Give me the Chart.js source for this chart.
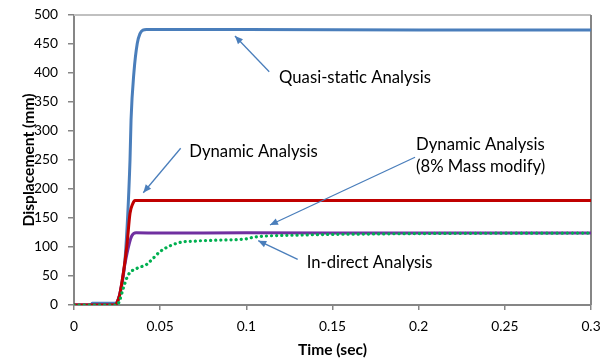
<!DOCTYPE html>
<html>
<head>
<meta charset="utf-8">
<script src="https://cdn.jsdelivr.net/npm/chart.js@4/dist/chart.umd.min.js"></script>
<style>
  html, body { margin: 0; padding: 0; background: #fff; }
  #wrap { width: 614px; height: 361px; }
</style>
</head>
<body>
<div id="wrap"><canvas id="c"></canvas></div>
<script>
// values
const quasiT = [0, 0.01, 0.0105, 0.024, 0.0255, 0.0267, 0.0296, 0.0325, 0.0331, 0.0348, 0.0367, 0.0383, 0.040, 0.042, 0.1, 0.2, 0.3];
const quasiV = [0, 0, 3, 3, 8, 20, 78, 250, 319, 402, 451, 468, 474, 475, 475, 474, 474];

const dynT = [0, 0.024, 0.0255, 0.0267, 0.0306, 0.0325, 0.034, 0.0354, 0.04, 0.1, 0.2, 0.3];
const dynV = [0, 0, 8, 20, 100, 158, 174, 180, 180, 180, 180, 180];

const dyn8T = [0, 0.024, 0.0255, 0.0267, 0.0295, 0.032, 0.0335, 0.036, 0.05, 0.1, 0.2, 0.3];
const dyn8V = [0, 0, 8, 20, 70, 105, 119, 124.5, 124, 124.5, 124, 124];

const indT = [0, 0.025, 0.0265, 0.0286, 0.0315, 0.0364, 0.0422, 0.0451, 0.0499, 0.0557, 0.0634, 0.0692, 0.075, 0.085, 0.1, 0.104, 0.133, 0.172, 0.22, 0.3];
const indV = [0, 0, 8, 29, 52, 63, 70, 78, 92, 102, 109, 110, 111, 112, 114, 116.7, 120.7, 122.4, 123.5, 124];

const xTicks = [0, 0.05, 0.1, 0.15, 0.2, 0.25, 0.3];
const yTicks = [0, 50, 100, 150, 200, 250, 300, 350, 400, 450, 500];

const FONT = "Lato";
const ARROW = "#4a7ebb";

// callouts, placed in data units
const notes = [
  { lines: ["Quasi-static Analysis"], at: [0.119, 392.6], from: [0.1133, 402.2], to: [0.0934, 463.8] },
  { lines: ["Dynamic Analysis"], at: [0.0669, 264.3], from: [0.0619, 270.2], to: [0.0402, 193.6] },
  { lines: ["Dynamic Analysis", "(8% Mass modify)"], at: [0.1985, 275.9], from: [0.1979, 254.7], to: [0.1137, 137.9] },
  { lines: ["In-direct Analysis"], at: [0.135, 72.9], from: [0.1298, 78.8], to: [0.1069, 110.9] },
];

// pick font sizes so the text widths match the picture
const mctx = document.createElement("canvas").getContext("2d");
function fitSize(text, weight, width) {
  mctx.font = weight + " 100px " + FONT;
  return 100 * width / mctx.measureText(text).width;
}
const tickSize = fitSize("500", "normal", 24);
const noteSize = fitSize("Quasi-static Analysis", "normal", 152);
const xTitleSize = fitSize("Time (sec)", "bold", 69);
const yTitleSize = fitSize("Displacement (mm)", "bold", 133);

const pts = (t, v) => t.map((x, i) => ({ x, y: v[i] }));

const extras = {
  id: "extras",
  beforeDatasetsDraw(chart) {
    const { ctx, chartArea: a } = chart;
    ctx.save();
    ctx.lineWidth = 2;
    ctx.strokeStyle = "#c0c0c0";
    ctx.beginPath();
    ctx.moveTo(a.left, a.top);
    ctx.lineTo(a.right, a.top);
    ctx.stroke();
    ctx.strokeStyle = "#868686";
    ctx.beginPath();
    ctx.moveTo(a.right, a.top);
    ctx.lineTo(a.right, a.bottom);
    ctx.stroke();
    ctx.restore();
  },
  afterDraw(chart) {
    const { ctx, chartArea: a, scales } = chart;
    const sx = scales.x, sy = scales.y;
    ctx.save();

    // axis titles
    ctx.fillStyle = "#000";
    ctx.textAlign = "center";
    ctx.textBaseline = "middle";
    ctx.font = "bold " + xTitleSize + "px " + FONT;
    ctx.fillText("Time (sec)", (a.left + a.right) / 2, 350);
    ctx.save();
    ctx.translate(29, (a.top + a.bottom) / 2);
    ctx.rotate(-Math.PI / 2);
    ctx.font = "bold " + yTitleSize + "px " + FONT;
    ctx.fillText("Displacement (mm)", 0, 0);
    ctx.restore();

    // callouts
    ctx.font = noteSize + "px " + FONT;
    ctx.textAlign = "left";
    notes.forEach((n) => {
      const x0 = sx.getPixelForValue(n.from[0]), y0 = sy.getPixelForValue(n.from[1]);
      const x1 = sx.getPixelForValue(n.to[0]), y1 = sy.getPixelForValue(n.to[1]);
      ctx.strokeStyle = ARROW;
      ctx.fillStyle = ARROW;
      ctx.lineWidth = 1.3;
      ctx.beginPath();
      ctx.moveTo(x0, y0);
      ctx.lineTo(x1, y1);
      ctx.stroke();
      const ang = Math.atan2(y1 - y0, x1 - x0);
      const L = 8, W = 3.5;
      ctx.beginPath();
      ctx.moveTo(x1, y1);
      ctx.lineTo(x1 - L * Math.cos(ang) + W * Math.sin(ang), y1 - L * Math.sin(ang) - W * Math.cos(ang));
      ctx.lineTo(x1 - L * Math.cos(ang) - W * Math.sin(ang), y1 - L * Math.sin(ang) + W * Math.cos(ang));
      ctx.closePath();
      ctx.fill();

      ctx.fillStyle = "#000";
      const tx = sx.getPixelForValue(n.at[0]), ty = sy.getPixelForValue(n.at[1]);
      n.lines.forEach((s, i) => ctx.fillText(s, tx, ty + i * 21.7));
    });
    ctx.restore();
  },
};

new Chart(document.getElementById("c"), {
  type: "scatter",
  data: {
    datasets: [
      { label: "Quasi-static Analysis", data: pts(quasiT, quasiV), borderColor: "#4a7ebb", borderWidth: 3, order: 4 },
      { label: "Dynamic Analysis", data: pts(dynT, dynV), borderColor: "#c00000", borderWidth: 3, order: 2 },
      { label: "Dynamic Analysis (8% Mass modify)", data: pts(dyn8T, dyn8V), borderColor: "#7030a0", borderWidth: 3, order: 3 },
      { label: "In-direct Analysis", data: pts(indT, indV), borderColor: "#00b050", borderWidth: 3.2,
        borderDash: [0.1, 5], borderCapStyle: "round", order: 1 },
    ].map((d) => Object.assign({ showLine: true, pointRadius: 0, cubicInterpolationMode: "monotone", fill: false }, d)),
  },
  options: {
    responsive: true,
    maintainAspectRatio: false,
    animation: false,
    layout: { padding: { top: 15, right: 23, left: 0, bottom: 0 } },
    scales: {
      x: {
        type: "linear",
        min: 0,
        max: 0.3,
        afterBuildTicks: (s) => { s.ticks = xTicks.map((value) => ({ value })); },
        afterFit: (s) => { s.height = 56; s.paddingLeft = 0; s.paddingRight = 0; },
        grid: { drawOnChartArea: false, color: "#868686", tickLength: 5, lineWidth: 1.5 },
        border: { color: "#868686", width: 2 },
        ticks: { color: "#000", font: { family: FONT, size: tickSize }, padding: 8, maxRotation: 0,
          callback: (v) => String(+v.toFixed(2)) },
      },
      y: {
        min: 0,
        max: 500,
        afterBuildTicks: (s) => { s.ticks = yTicks.map((value) => ({ value })); },
        afterFit: (s) => { s.width = 74; s.paddingTop = 0; s.paddingBottom = 0; },
        grid: { drawOnChartArea: false, color: "#868686", tickLength: 6, lineWidth: 1.5 },
        border: { color: "#868686", width: 2 },
        ticks: { color: "#000", font: { family: FONT, size: tickSize }, padding: 10 },
      },
    },
    plugins: { legend: { display: false }, tooltip: { enabled: false } },
  },
  plugins: [extras],
});
</script>
</body>
</html>
